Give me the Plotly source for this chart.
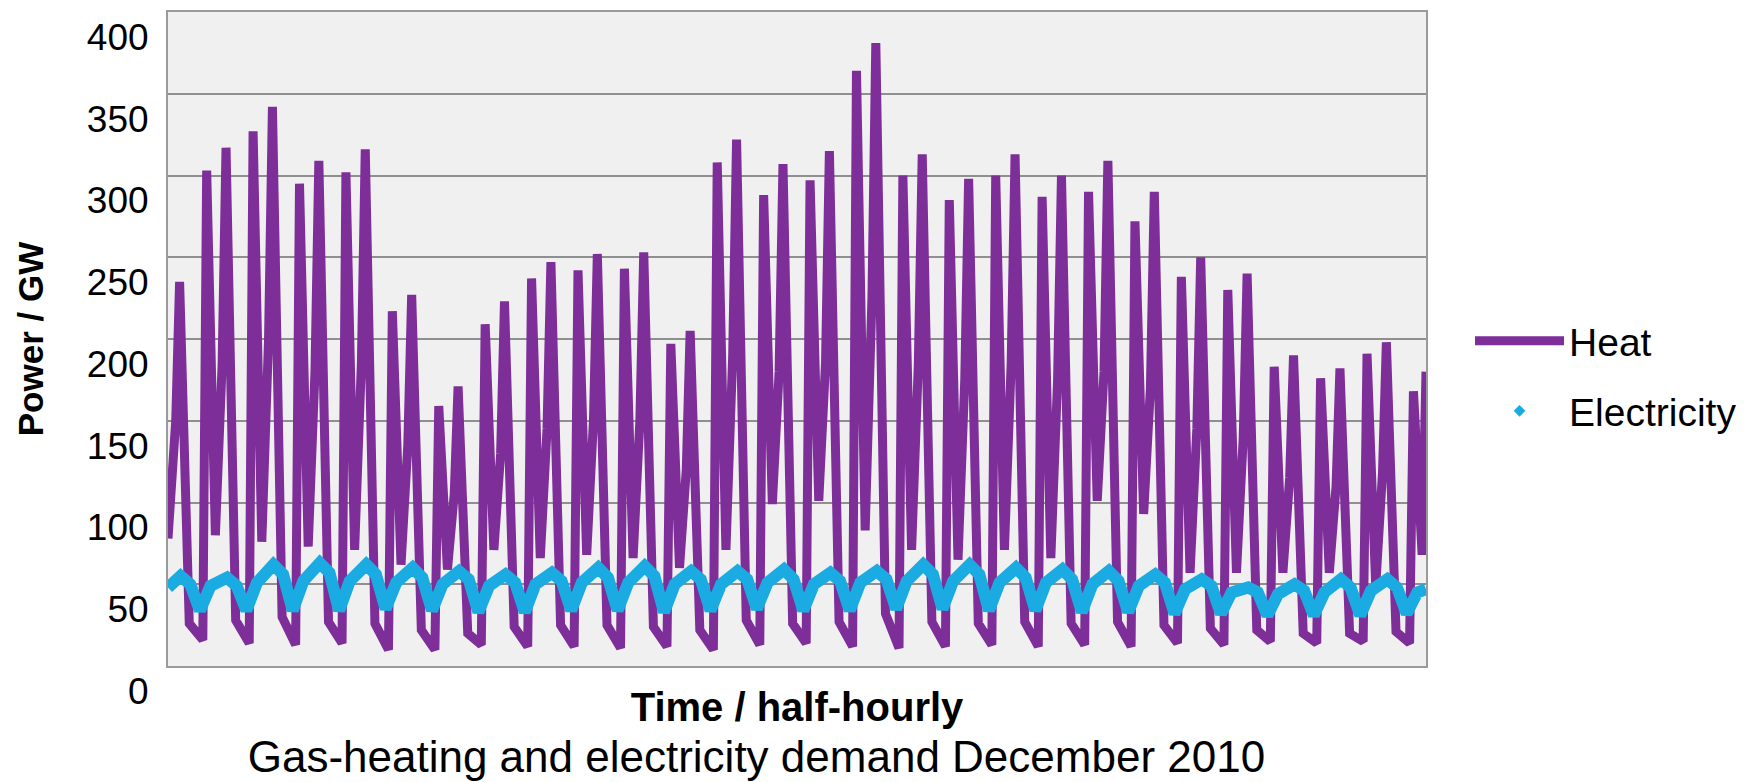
import plotly.graph_objects as go

# ---------------- data ----------------
# half-hourly series, December 2010; key readings per day (day 0 .. day 27)
# slot = half-hour of the day (0..47); the series starts at slot 22 of day 0
start_slot = 22
end_slot_last_day = 27
n_days = 28

# Heat (GW)
heat_predawn_low = [None, 16, 14, 13, 14, 10, 10, 13, 12, 12, 11, 12, 10, 13, 14,
                    12, 11, 12, 13, 12, 13, 12, 14, 13, 15, 14, 15, 14]
heat_morning_peak = [None, 303, 327, 295, 302, 217, 159, 209, 237, 242, 243, 197, 308, 288,
                     297, 364, 300, 285, 300, 287, 290, 272, 238, 230, 183, 176, 191, 168]
heat_midday_low = [None, 80, 76, 73, 71, 62, 59, 71, 66, 68, 66, 60, 71, 99, 101,
                   83, 71, 65, 71, 66, 101, 93, 57, 57, 57, 57, 49, 68]
heat_afternoon = [150, 185, 200, 180, 185, 135, 105, 130, 145, 150, 150, 120, 190, 180,
                  185, 225, 185, 175, 185, 175, 180, 170, 145, 140, 115, 110, 118, None]
heat_evening_peak = [235, 317, 342, 309, 316, 227, 171, 223, 247, 252, 253, 205, 322, 307,
                     315, 381, 313, 298, 313, 300, 309, 290, 250, 240, 190, 182, 198, None]
heat_evening_shoulder = [150, 192, 196, 185, 190, 140, 105, 135, 150, 150, 150, 125, 190, 185,
                         190, 225, 190, 180, 190, 180, 185, 175, 150, 145, 115, 110, 120, None]
heat_late_evening = [26, 28, 30, 27, 26, 22, 20, 24, 25, 25, 24, 22, 28, 26,
                     27, 32, 27, 26, 27, 26, 27, 25, 23, 22, 20, 20, 21, None]
heat_start = 78
heat_end = 180

# Electricity (GW)
elec_night_low = [None, 34, 34, 34, 34, 35, 34, 33, 33, 34, 34, 33, 34, 35,
                  34, 34, 35, 35, 34, 34, 33, 33, 32, 32, 31, 31, 31, 32]
elec_day = [None, 49, 51, 52, 52, 51, 50, 49, 50, 51, 51, 50, 50, 51,
            50, 51, 52, 52, 51, 51, 50, 49, 47, 45, 44, 45, 46, 45]
elec_evening_peak = [55, 54, 62, 63, 62, 60, 58, 56, 57, 60, 61, 58, 58, 59,
                     57, 58, 62, 62, 60, 59, 58, 56, 53, 48, 50, 53, 53, None]
elec_late = [50, 49, 56, 57, 56, 54, 53, 51, 52, 54, 55, 53, 53, 53,
             52, 53, 56, 56, 54, 53, 52, 51, 49, 45, 46, 48, 48, None]
elec_start = 48
elec_end = 47

y_ticks = [0, 50, 100, 150, 200, 250, 300, 350, 400]

# ---------------- build series ----------------
last_i = 48 * (n_days - 1) + end_slot_last_day - start_slot


def build(key_arrays, first_value, last_value):
    xs, ys = [0], [first_value]
    for d in range(n_days):
        for slot, arr in key_arrays:
            v = arr[d]
            if v is None:
                continue
            i = 48 * d + slot - start_slot
            if 0 < i < last_i:
                xs.append(i)
                ys.append(v)
    xs.append(last_i)
    ys.append(last_value)
    return xs, ys


heat_x, heat_y = build([(10, heat_predawn_low), (14, heat_morning_peak), (23, heat_midday_low),
                        (30, heat_afternoon), (34, heat_evening_peak),
                        (38, heat_evening_shoulder), (44, heat_late_evening)],
                       heat_start, heat_end)
elec_x, elec_y = build([(7, elec_night_low), (18, elec_day), (35, elec_evening_peak),
                        (45, elec_late)], elec_start, elec_end)

PURPLE = "#7D2E99"
CYAN = "#1AABE2"
FONT = "Liberation Sans, Arial, sans-serif"

fig = go.Figure()
fig.add_trace(go.Scatter(x=heat_x, y=heat_y, mode="lines", name="Heat",
                         line=dict(color=PURPLE, width=9), legend="legend"))
fig.add_trace(go.Scatter(x=elec_x, y=elec_y, mode="lines", name="Electricity",
                         line=dict(color=CYAN, width=12), showlegend=False))
fig.add_trace(go.Scatter(x=[None], y=[None], mode="markers", name="Electricity",
                         marker=dict(symbol="diamond", size=9, color=CYAN),
                         legend="legend2"))

fig.update_layout(
    width=1761, height=782, autosize=False,
    margin=dict(l=160, r=343, t=2, b=124),
    paper_bgcolor="white", plot_bgcolor="#F0F0F0",
    font=dict(family=FONT, color="black"),
    title=dict(text="Gas-heating and electricity demand December 2010",
               x=0.425, xanchor="center", xref="container",
               y=0.0426, yanchor="middle", yref="container",
               font=dict(size=44, family=FONT, color="black")),
    legend=dict(x=1.035, xanchor="left", y=0.497, yanchor="middle",
                font=dict(size=39), itemwidth=89, bgcolor="rgba(0,0,0,0)"),
    legend2=dict(x=1.035, xanchor="left", y=0.390, yanchor="middle",
                 font=dict(size=39), itemwidth=89, bgcolor="rgba(0,0,0,0)"),
)
fig.update_xaxes(range=[0, last_i], showticklabels=False, ticks="", showgrid=False,
                 zeroline=False, showline=True, linecolor="#9A9A9A", linewidth=2, mirror=True,
                 title=dict(text="Time / half-hourly", standoff=26,
                            font=dict(size=40, family=FONT, weight="bold", color="black")))
fig.update_yaxes(range=[0, 400], tickvals=y_ticks, ticktext=[str(v) for v in y_ticks],
                 ticks="", showgrid=True, gridcolor="#8F8F8F", gridwidth=2, zeroline=False,
                 showline=True, linecolor="#9A9A9A", linewidth=2, mirror=True,
                 tickfont=dict(size=37, family=FONT, color="black"),
                 ticklabelstandoff=10, ticklabelshift=25,
                 title=dict(text="Power / GW", standoff=33,
                            font=dict(size=35, family=FONT, weight="bold", color="black")))

fig.write_html("out.html")
